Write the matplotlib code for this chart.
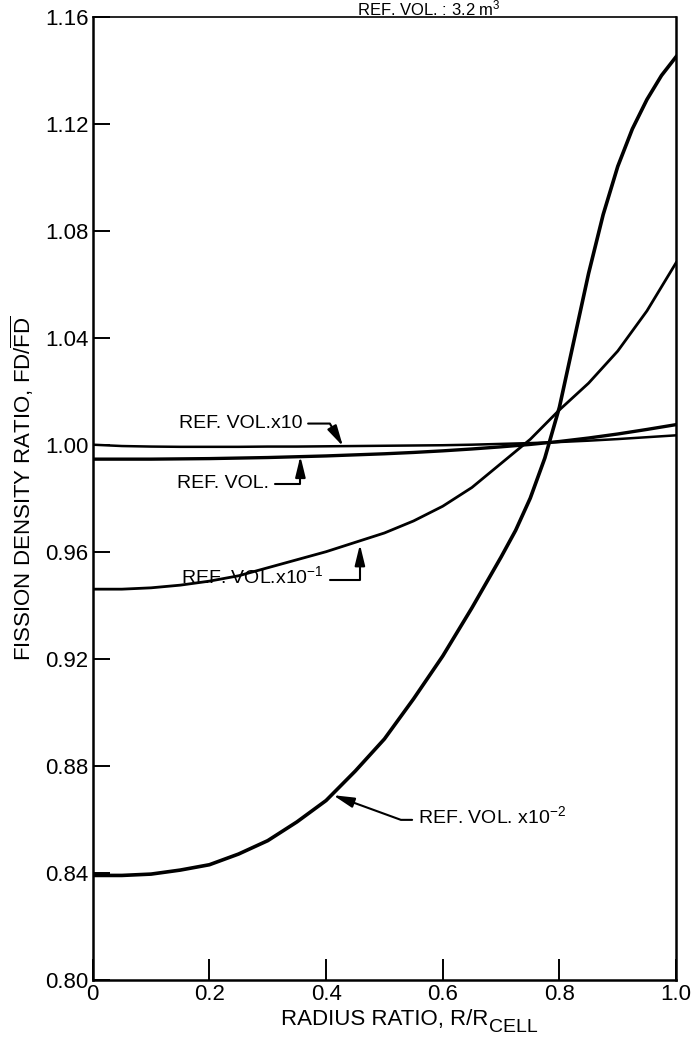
import numpy as np
import matplotlib
matplotlib.use('Agg')
import matplotlib.pyplot as plt

plt.rcParams['font.family'] = ['Liberation Sans', 'DejaVu Sans']
plt.rcParams['mathtext.fontset'] = 'custom'
plt.rcParams['mathtext.rm'] = 'Liberation Sans'
plt.rcParams['mathtext.it'] = 'Liberation Sans'

# radius ratio r / r_cell
r = [0.0, 0.05, 0.1, 0.15, 0.2, 0.25, 0.3, 0.35, 0.4, 0.45, 0.5,
     0.55, 0.6, 0.65, 0.7, 0.75, 0.8, 0.85, 0.9, 0.95, 1.0]

# fission density ratio
fd_x10 = [1.000, 0.9995, 0.9993, 0.9992, 0.9992, 0.9992, 0.9993, 0.9993, 0.9994, 0.9995, 0.9996,
          0.9997, 0.9998, 1.0000, 1.0003, 1.0006, 1.0010, 1.0015, 1.0021, 1.0028, 1.0035]
fd_ref = [0.9946, 0.9946, 0.9946, 0.9947, 0.9948, 0.9950, 0.9952, 0.9955, 0.9958, 0.9962, 0.9966,
          0.9971, 0.9977, 0.9984, 0.9992, 1.0001, 1.0012, 1.0025, 1.0040, 1.0057, 1.0075]
fd_x10m1 = [0.946, 0.946, 0.9465, 0.9475, 0.949, 0.951, 0.954, 0.957, 0.960, 0.9635, 0.967,
            0.9715, 0.977, 0.984, 0.993, 1.002, 1.013, 1.023, 1.035, 1.050, 1.068]

# the x10^-2 curve bends hard near the wall, so it is read at finer steps there
r_m2 = [0.0, 0.05, 0.1, 0.15, 0.2, 0.25, 0.3, 0.35, 0.4, 0.45, 0.5, 0.55, 0.6, 0.65,
        0.7, 0.725, 0.75, 0.775, 0.8, 0.825, 0.85, 0.875, 0.9, 0.925, 0.95, 0.975, 1.0]
fd_x10m2 = [0.839, 0.839, 0.8395, 0.841, 0.843, 0.847, 0.852, 0.859, 0.867, 0.878, 0.890, 0.905, 0.921, 0.939,
            0.958, 0.968, 0.980, 0.995, 1.014, 1.039, 1.064, 1.086, 1.104, 1.118, 1.129, 1.138, 1.145]

y_ticks = [0.80, 0.84, 0.88, 0.92, 0.96, 1.00, 1.04, 1.08, 1.12, 1.16]
x_ticks = [0, 0.2, 0.4, 0.6, 0.8, 1.0]
x_labels = ['0', '0.2', '0.4', '0.6', '0.8', '1.0']

fig = plt.figure(figsize=(6.92, 10.39), dpi=100)
ax = fig.add_axes([0.134, 0.057, 0.843, 0.927])

ax.plot(r, fd_x10, color='black', linewidth=1.8)
ax.plot(r, fd_ref, color='black', linewidth=2.4)
ax.plot(r, fd_x10m1, color='black', linewidth=2.0)
ax.plot(r_m2, fd_x10m2, color='black', linewidth=2.6)

ax.set_xlim(0, 1.0)
ax.set_ylim(0.80, 1.16)
ax.set_xticks(x_ticks)
ax.set_xticklabels(x_labels)
ax.set_yticks(y_ticks)
ax.set_yticklabels([f'{v:.2f}' for v in y_ticks])
ax.tick_params(axis='x', direction='in', length=15, width=1.4, labelsize=16, pad=3)
ax.tick_params(axis='y', direction='in', length=12, width=1.4, labelsize=16, pad=3)
for s in ax.spines.values():
    s.set_linewidth(1.8)
ax.spines['top'].set_linewidth(1.2)

# axis titles (subscript CELL is nearly full size in the original)
fig.text(488 / 692, 1 - 1019 / 1039, 'RADIUS RATIO, R/R', fontsize=16, ha='right', va='center')
fig.text(489 / 692, 1 - 1027 / 1039, 'CELL', fontsize=14, ha='left', va='center')
fig.text(22 / 692, 1 - 488 / 1039, r'FISSION DENSITY RATIO, FD/$\overline{\mathrm{FD}}$',
         fontsize=16, rotation=90, ha='center', va='center')

# curve labels with bent leader arrows
arrow = dict(arrowstyle='-|>,head_length=0.9,head_width=0.22', color='black',
             linewidth=1.5, mutation_scale=14, shrinkA=2, shrinkB=0)
fs = 14

ax.annotate('REF. VOL.x10', xy=(0.429, 0.9994), xytext=(0.148, 1.0079),
            fontsize=fs, va='center', ha='left',
            arrowprops=dict(arrow, connectionstyle='angle,angleA=0,angleB=120,rad=0',
                            relpos=(1.0, 0.5)))
ax.annotate('REF. VOL.', xy=(0.356, 0.9957), xytext=(0.145, 0.9854),
            fontsize=fs, va='center', ha='left',
            arrowprops=dict(arrow, connectionstyle='angle,angleA=0,angleB=90,rad=0',
                            relpos=(1.0, 0.5)))
ax.annotate(r'REF. VOL.x10$^{-1}$', xy=(0.458, 0.9627), xytext=(0.152, 0.9507),
            fontsize=fs, va='center', ha='left',
            arrowprops=dict(arrow, connectionstyle='angle,angleA=0,angleB=90,rad=0',
                            relpos=(1.0, 0.35)))
ax.annotate(r'REF. VOL. x10$^{-2}$', xy=(0.412, 0.869), xytext=(0.557, 0.861),
            fontsize=fs, va='center', ha='left',
            arrowprops=dict(arrow, connectionstyle='angle,angleA=0,angleB=-20,rad=0',
                            relpos=(0.0, 0.35)))

fig.text(0.62, 1 - 8 / 1039, r'REF. VOL. : 3.2 m$^{3}$', fontsize=12, ha='center', va='center')

fig.savefig('out.png', dpi=100)
